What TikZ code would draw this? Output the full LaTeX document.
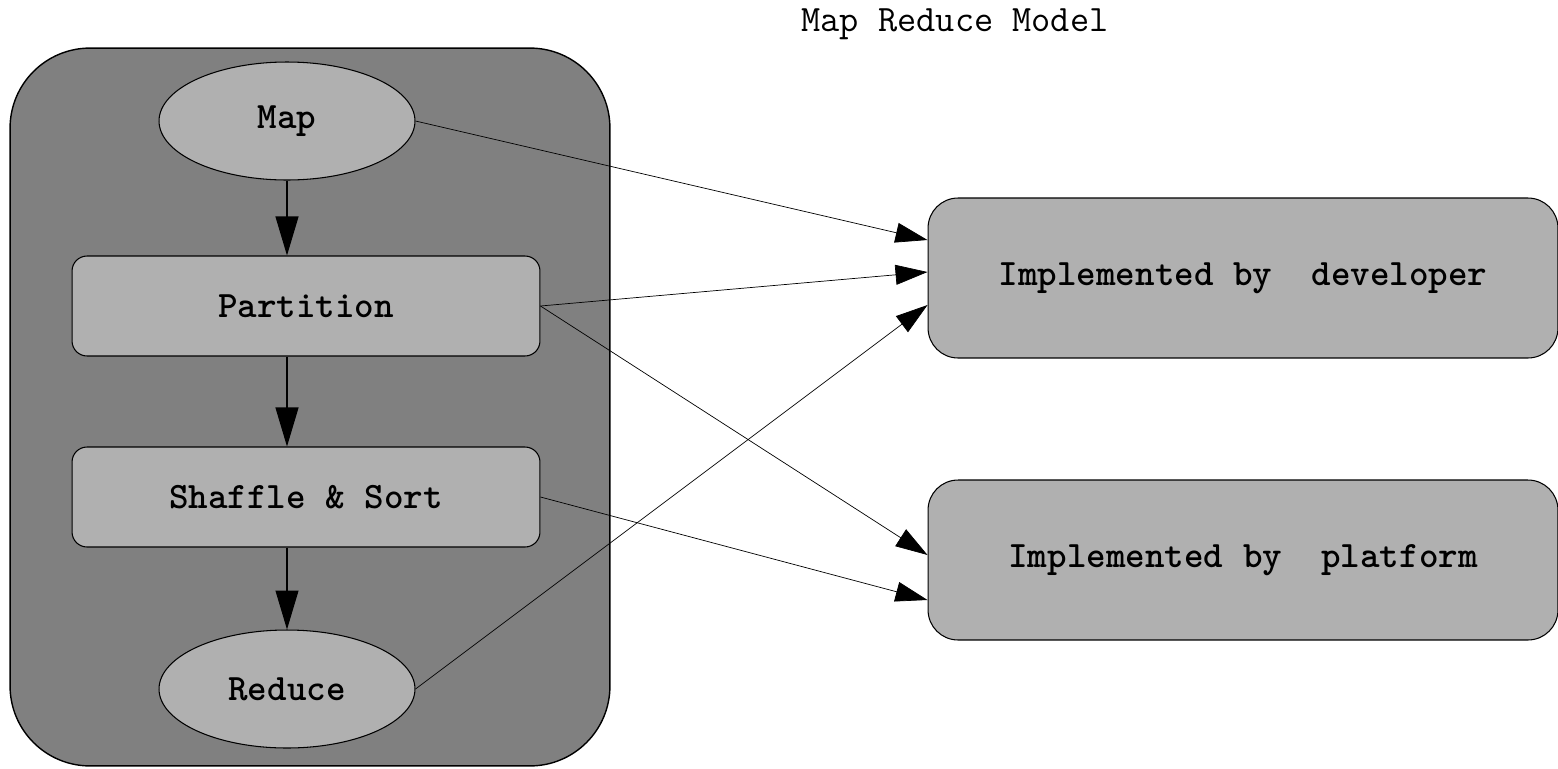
\documentclass[tikz,border=0pt]{standalone}
\usetikzlibrary{arrows.meta,shapes.geometric}
\definecolor{clustergray}{HTML}{808080}
\definecolor{nodegray}{HTML}{B0B0B0}
\tikzset{
	txt/.style={font=\fontsize{21.2}{25}\selectfont\ttfamily\bfseries},
	oval/.style={draw, line width=0.6pt, ellipse, fill=nodegray, txt, minimum width=5.12cm, minimum height=2.36cm},
	stagebox/.style={draw, line width=0.6pt, rectangle, rounded corners=0.3cm, fill=nodegray, txt, minimum width=9.36cm, minimum height=2cm},
	implbox/.style={draw, line width=0.6pt, rectangle, rounded corners=0.6cm, fill=nodegray, txt, minimum width=12.6cm, minimum height=3.2cm},
	flow/.style={-{Triangle[length=0.78cm, width=0.46cm]}, line width=0.6pt},
	link/.style={-{Triangle[length=0.64cm, width=0.4cm]}, line width=0.4pt},
}
\begin{document}
\begin{tikzpicture}[x=0.02cm, y=-0.02cm]
		\useasboundingbox (0,0) rectangle (1558,768);
		\node[font=\fontsize{21.2}{25}\selectfont\ttfamily] (title) at (955,24) {Map Reduce Model};
		
		\node[draw, line width=0.8pt, fill=clustergray, rounded corners=1.6cm, minimum width=12cm, minimum height=14.36cm] (cluster) at (310,407) {};
		
		\node[oval] (map) at (287,121) {Map};
		\node[stagebox] (partition) at (306,306) {Partition};
		\node[stagebox] (shaffle) at (306,497) {Shaffle \& Sort};
		\node[oval] (reduce) at (287,689) {Reduce};
		
		\node[implbox] (dev) at (1243,278) {Implemented by\ \ developer};
		\node[implbox] (platform) at (1243,560) {Implemented by\ \ platform};
		
		\draw[flow] (map.south) to (map.south |- partition.north);
		\draw[flow] (map.south |- partition.south) to (map.south |- shaffle.north);
		\draw[flow] (map.south |- shaffle.south) to (reduce.north);
		
		\draw[link] (map.east) to ([yshift=0.76cm]dev.west);
		\draw[link] (partition.east) to ([yshift=0.12cm]dev.west);
		\draw[link] (partition.east) to ([yshift=0.1cm]platform.west);
		\draw[link] (shaffle.east) to ([yshift=-0.8cm]platform.west);
		\draw[link] (reduce.east) to ([yshift=-0.54cm]dev.west);
		
	\end{tikzpicture}
\end{document}
